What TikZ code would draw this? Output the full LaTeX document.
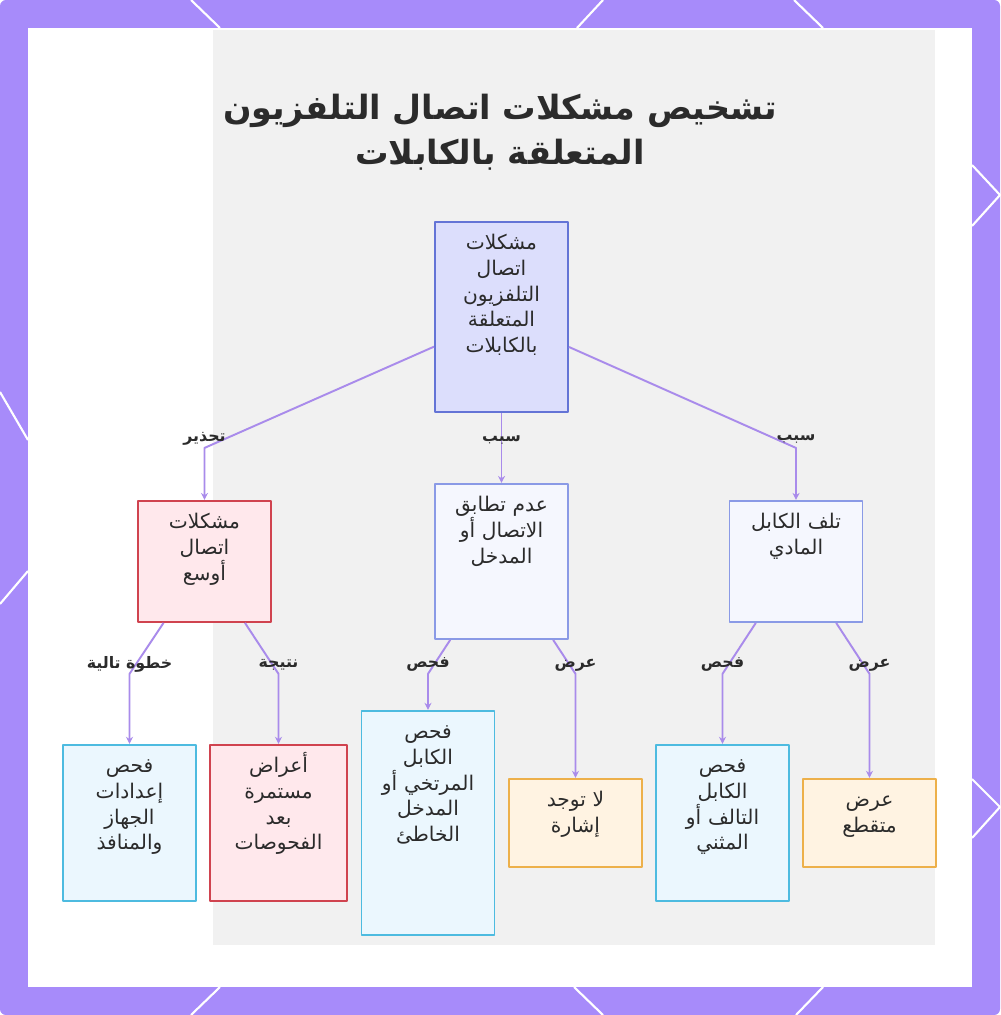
\documentclass[tikz,border=0pt]{standalone}
\usepackage{fontspec}
\usepackage{tikz}
\usetikzlibrary{positioning,arrows.meta}
\TeXXeTstate=1
\newfontfamily\arabicfont[Script=Arabic]{DejaVu Sans}
\newcommand{\rl}[1]{\beginR#1\endR}

\definecolor{framepurple}{HTML}{A78BFA}
\definecolor{softgray}{HTML}{F1F1F1}
\definecolor{linkpurple}{HTML}{A98BEB}
\definecolor{textgray}{HTML}{2B2B2B}
\definecolor{rootfill}{HTML}{DCDEFC}
\definecolor{rootdraw}{HTML}{6474D6}
\definecolor{causefill}{HTML}{F5F7FE}
\definecolor{causedraw}{HTML}{8A9AE6}
\definecolor{warnfill}{HTML}{FFE8EC}
\definecolor{warndraw}{HTML}{D0434F}
\definecolor{testfill}{HTML}{EBF7FE}
\definecolor{testdraw}{HTML}{4DBBE0}
\definecolor{showfill}{HTML}{FFF3E2}
\definecolor{showdraw}{HTML}{EDB04A}

\begin{document}
\begin{tikzpicture}[>={Stealth[length=4pt,width=4pt]},line join=round,
	box/.style={draw, line width=1.1pt, anchor=north, align=center, text width=2.3cm, inner xsep=0.18cm, inner ysep=0pt, text height=0.56cm, text=textgray, font=\arabicfont\fontsize{11.5}{14.6}\selectfont},
	rootbox/.style={box, fill=rootfill, draw=rootdraw},
	causebox/.style={box, fill=causefill, draw=causedraw},
	warnbox/.style={box, fill=warnfill, draw=warndraw},
	testbox/.style={box, fill=testfill, draw=testdraw},
	showbox/.style={box, fill=showfill, draw=showdraw},
	link/.style={->, line width=1.1pt, draw=linkpurple},
	lab/.style={inner sep=1pt, text=textgray, font=\arabicfont\bfseries\fontsize{9}{11}\selectfont},
	deco/.style={white, line width=1.2pt}]
	\useasboundingbox (0,0) rectangle (20,-20.3);
	
	% frame and background
	\fill[framepurple, rounded corners=0.12cm] (0,0) rectangle (20,-20.3);
	\fill[white] (0.56,-0.56) rectangle (19.44,-19.74);
	\fill[softgray] (4.25,-0.6) rectangle (18.7,-18.9);
	\draw[deco] (3.82,0) -- (4.4,-0.56);
	\draw[deco] (12.06,0) -- (11.54,-0.56);
	\draw[deco] (15.88,0) -- (16.46,-0.56);
	\draw[deco] (4.4,-19.74) -- (3.82,-20.3);
	\draw[deco] (11.48,-19.74) -- (12.06,-20.3);
	\draw[deco] (16.46,-19.74) -- (15.92,-20.3);
	\draw[deco] (19.44,-3.3) -- (20,-3.9) -- (19.44,-4.52);
	\draw[deco] (19.44,-15.58) -- (20,-16.14) -- (19.44,-16.76);
	\draw[deco] (0,-7.84) -- (0.56,-8.8);
	\draw[deco] (0.56,-11.42) -- (0,-12.08);
	
	\node[align=center, text=textgray, font=\arabicfont\bfseries\fontsize{19}{25.5}\selectfont] (title) at (10,-2.64)
		{\rl{تشخيص مشكلات اتصال التلفزيون}\\\rl{المتعلقة بالكابلات}};
	
	\node[rootbox, text depth=3.24cm] (root) at (10.03,-4.42)
		{\rl{مشكلات}\\\rl{اتصال}\\\rl{التلفزيون}\\\rl{المتعلقة}\\\rl{بالكابلات}};
	
	\node[causebox, text depth=2.54cm, below=1.4cm of root] (mismatch)
		{\rl{عدم تطابق}\\\rl{الاتصال أو}\\\rl{المدخل}};
	\node[warnbox, text depth=1.86cm, below=1.74cm of root, xshift=-5.94cm] (wider)
		{\rl{مشكلات}\\\rl{اتصال}\\\rl{أوسع}};
	\node[causebox, text depth=1.86cm, below=1.74cm of root, xshift=5.89cm] (damage)
		{\rl{تلف الكابل}\\\rl{المادي}};
	
	\node[testbox, text depth=2.56cm, below=2.42cm of wider, xshift=-1.5cm] (settings)
		{\rl{فحص}\\\rl{إعدادات}\\\rl{الجهاز}\\\rl{والمنافذ}};
	\node[warnbox, text depth=2.56cm, minimum width=2.74cm, below=2.42cm of wider, xshift=1.48cm] (persist)
		{\rl{أعراض}\\\rl{مستمرة}\\\rl{بعد}\\\rl{الفحوصات}};
	\node[testbox, text depth=3.92cm, below=1.4cm of mismatch, xshift=-1.47cm] (loose)
		{\rl{فحص}\\\rl{الكابل}\\\rl{المرتخي أو}\\\rl{المدخل}\\\rl{الخاطئ}};
	\node[showbox, text depth=1.2cm, below=2.76cm of mismatch, xshift=1.48cm] (nosignal)
		{\rl{لا توجد}\\\rl{إشارة}};
	\node[testbox, text depth=2.56cm, below=2.42cm of damage, xshift=-1.47cm] (bent)
		{\rl{فحص}\\\rl{الكابل}\\\rl{التالف أو}\\\rl{المثني}};
	\node[showbox, text depth=1.2cm, below=3.1cm of damage, xshift=1.47cm] (flicker)
		{\rl{عرض}\\\rl{متقطع}};
	
	% bends of the connectors
	\coordinate (kWider) at ([yshift=1.04cm]wider.north);
	\coordinate (kDamage) at ([yshift=1.04cm]damage.north);
	\coordinate (kSettings) at ([yshift=1.4cm]settings.north);
	\coordinate (kPersist) at ([yshift=1.4cm]persist.north);
	\coordinate (kLoose) at ([yshift=0.72cm]loose.north);
	\coordinate (kNosignal) at ([yshift=2.08cm]nosignal.north);
	\coordinate (kBent) at ([yshift=1.4cm]bent.north);
	\coordinate (kFlicker) at ([yshift=2.08cm]flicker.north);
	
	\draw[link] (root) -- (kWider) -- (wider);
	\draw[link] (root) -- (mismatch);
	\draw[link] (root) -- (kDamage) -- (damage);
	\draw[link] (wider) -- (kSettings) -- (settings);
	\draw[link] (wider) -- (kPersist) -- (persist);
	\draw[link] (mismatch) -- (kLoose) -- (loose);
	\draw[link] (mismatch) -- (kNosignal) -- (nosignal);
	\draw[link] (damage) -- (kBent) -- (bent);
	\draw[link] (damage) -- (kFlicker) -- (flicker);
	
	\node[lab] (lWider) at ([yshift=0.18cm]kWider) {\rl{تحذير}};
	\node[lab] (lMismatch) at ([yshift=0.86cm]mismatch.north) {\rl{سبب}};
	\node[lab] (lDamage) at ([yshift=0.18cm]kDamage) {\rl{سبب}};
	\node[lab] (lSettings) at ([yshift=0.18cm]kSettings) {\rl{خطوة تالية}};
	\node[lab] (lPersist) at ([yshift=0.18cm]kPersist) {\rl{نتيجة}};
	\node[lab] (lLoose) at ([yshift=0.18cm]kLoose) {\rl{فحص}};
	\node[lab] (lNosignal) at ([yshift=0.18cm]kNosignal) {\rl{عرض}};
	\node[lab] (lBent) at ([yshift=0.18cm]kBent) {\rl{فحص}};
	\node[lab] (lFlicker) at ([yshift=0.18cm]kFlicker) {\rl{عرض}};
\end{tikzpicture}
\end{document}
